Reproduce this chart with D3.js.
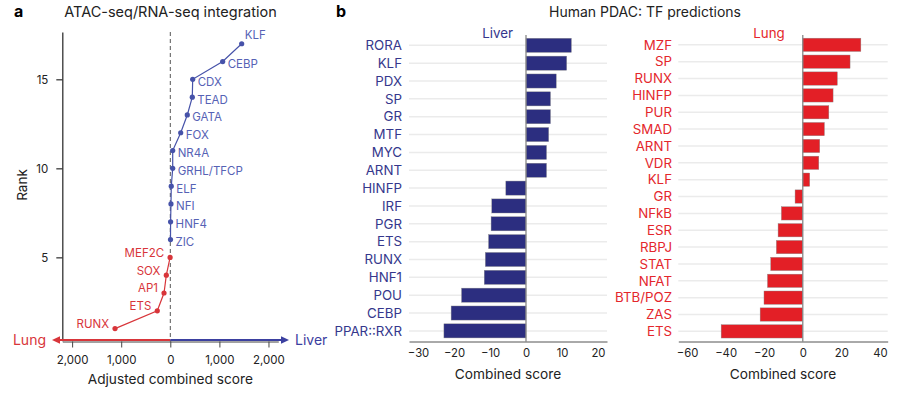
<!DOCTYPE html>
<html>
<head>
<meta charset="utf-8">
<script src="https://cdn.jsdelivr.net/npm/d3@7"></script>
<style>
  body { margin: 0; background: #fff; }
  text { font-family: Inter, "Noto Sans", sans-serif; }
</style>
</head>
<body>
<div id="chart"></div>
<script>
const width = 911;
const height = 395;

// panel a: ATAC-seq/RNA-seq integration
const tfA = ["RUNX", "ETS", "AP1", "SOX", "MEF2C", "ZIC", "HNF4", "NFI", "ELF", "GRHL/TFCP", "NR4A", "FOX", "GATA", "TEAD", "CDX", "CEBP", "KLF"];
const rankA = [1, 2, 3, 4, 5, 6, 7, 8, 9, 10, 11, 12, 13, 14, 15, 16, 17];
const scoreA = [-1126, -265, -128, -81, -4, 4, 6, 14, 20, 49, 49, 212, 346, 448, 456, 1067, 1454];
const rankTicks = [5, 10, 15];
const scoreTicks = [-2000, -1000, 0, 1000, 2000];

// panel b: Human PDAC TF predictions
const liverTF = ["RORA", "KLF", "PDX", "SP", "GR", "MTF", "MYC", "ARNT", "HINFP", "IRF", "PGR", "ETS", "RUNX", "HNF1", "POU", "CEBP", "PPAR::RXR"];
const liverScore = [12.6, 11.3, 8.4, 6.8, 6.8, 6.3, 5.7, 5.7, -5.6, -9.5, -9.7, -10.4, -11.3, -11.6, -17.9, -20.8, -22.8];
const liverTicks = [-30, -20, -10, 0, 10, 20];

const lungTF = ["MZF", "SP", "RUNX", "HINFP", "PUR", "SMAD", "ARNT", "VDR", "KLF", "GR", "NFkB", "ESR", "RBPJ", "STAT", "NFAT", "BTB/POZ", "ZAS", "ETS"];
const lungScore = [30.1, 24.5, 17.9, 15.7, 13.5, 11.2, 8.8, 8.3, 3.6, -4.0, -11.1, -12.8, -13.7, -16.6, -18.3, -20.1, -22.1, -42.3];
const lungTicks = [-60, -40, -20, 0, 20, 40];

const blue = "#4652a9", blueText = "#5662b5", red = "#d8353a";
const navy = "#2c2e80", navyText = "#35378c", lungRed = "#e31f26";

const svg = d3.select("#chart")
    .append("svg")
        .attr("width", width)
        .attr("height", height);

// ---------- panel a ----------
const xA = d3.scaleLinear().domain([-2200, 2200]).range([62.3, 278.3]);
const yA = d3.scaleLinear().domain([0.32, 17.66]).range([340.7, 32]);
const axisY = 341.5;

svg.append("text").attr("x", 14).attr("y", 17)
    .style("font-size", "16px").style("font-weight", "bold").text("a");
svg.append("text").attr("x", 170.5).attr("y", 17).attr("text-anchor", "middle")
    .style("font-size", "14.5px").attr("fill", "#222").text("ATAC-seq/RNA-seq integration");

// dashed zero line
svg.append("line")
    .attr("x1", xA(0)).attr("x2", xA(0))
    .attr("y1", 32).attr("y2", axisY)
    .attr("stroke", "#555").attr("stroke-width", 1).attr("stroke-dasharray", "4,3");

// y axis
const gyA = svg.append("g")
    .attr("transform", "translate(" + xA.range()[0] + ",0)")
    .call(d3.axisLeft(yA).tickValues(rankTicks).tickSize(6).tickPadding(8).tickSizeOuter(0));
gyA.select(".domain").attr("stroke", "#333").attr("stroke-width", 1.3);
gyA.selectAll("text").style("font-size", "11.5px").attr("fill", "#222");

// x axis
const gxA = svg.append("g")
    .attr("transform", "translate(0," + axisY + ")")
    .call(d3.axisBottom(xA).tickValues(scoreTicks)
        .tickFormat(d => d3.format(",")(Math.abs(d)))
        .tickSize(6).tickPadding(8).tickSizeOuter(0));
gxA.select(".domain").attr("stroke", "#444").attr("stroke-width", 1);
gxA.selectAll(".tick line").attr("stroke", "#444");
gxA.selectAll("text").style("font-size", "11.5px").attr("fill", "#222");

// direction arrows
const arrowY = 340;
svg.append("line").attr("x1", xA(0)).attr("x2", 58).attr("y1", arrowY).attr("y2", arrowY)
    .attr("stroke", red).attr("stroke-width", 2.2);
svg.append("path").attr("d", "M52," + arrowY + "l8,-3.8v7.6z").attr("fill", red);
svg.append("line").attr("x1", xA(0)).attr("x2", 282).attr("y1", arrowY).attr("y2", arrowY)
    .attr("stroke", "#3b40a0").attr("stroke-width", 2.2);
svg.append("path").attr("d", "M289," + arrowY + "l-8,-3.8v7.6z").attr("fill", "#3b40a0");
svg.append("text").attr("x", 46).attr("y", arrowY + 5).attr("text-anchor", "end")
    .style("font-size", "14px").attr("fill", red).text("Lung");
svg.append("text").attr("x", 295).attr("y", arrowY + 5)
    .style("font-size", "14px").attr("fill", "#3b40a0").text("Liver");

svg.append("text").attr("x", 170.3).attr("y", 384).attr("text-anchor", "middle")
    .style("font-size", "13.7px").attr("fill", "#222").text("Adjusted combined score");
svg.append("text").attr("transform", "translate(27,185) rotate(-90)").attr("text-anchor", "middle")
    .style("font-size", "13.5px").attr("fill", "#222").text("Rank");

const ptsA = tfA.map((d, i) => ({tf: d, rank: rankA[i], score: scoreA[i]}));
const lungPts = ptsA.filter(d => d.score < 0);
const liverPts = ptsA.filter(d => d.score >= 0);
const lineA = d3.line().x(d => xA(d.score)).y(d => yA(d.rank));

svg.append("path").datum(lungPts).attr("d", lineA)
    .attr("fill", "none").attr("stroke", red).attr("stroke-width", 1.2);
svg.append("path").datum(liverPts).attr("d", lineA)
    .attr("fill", "none").attr("stroke", blue).attr("stroke-width", 1.2);

svg.selectAll(".ptA")
    .data(ptsA)
    .join("circle")
        .attr("cx", d => xA(d.score))
        .attr("cy", d => yA(d.rank))
        .attr("r", 2.6)
        .attr("fill", d => d.score < 0 ? red : blue);

svg.selectAll(".lblA")
    .data(ptsA)
    .join("text")
        .attr("x", d => d.score < 0 ? xA(d.score) - 6 : xA(d.score) + (d.rank === 17 ? 3 : 5))
        .attr("y", d => d.score < 0 ? yA(d.rank) - 0.5 : yA(d.rank) + (d.rank === 17 ? -5 : 6.5))
        .attr("text-anchor", d => d.score < 0 ? "end" : "start")
        .style("font-size", "11.5px")
        .attr("fill", d => d.score < 0 ? red : blueText)
        .text(d => d.tf);

// ---------- panel b ----------
svg.append("text").attr("x", 336).attr("y", 17)
    .style("font-size", "16px").style("font-weight", "bold").text("b");
svg.append("text").attr("x", 645).attr("y", 17).attr("text-anchor", "middle")
    .style("font-size", "14px").attr("fill", "#222").text("Human PDAC: TF predictions");

function barPanel(cats, vals, ticks, xRange, domain, labelX, head, headX, barColor, textColor) {
    const x = d3.scaleLinear().domain(domain).range(xRange);
    const y = d3.scalePoint().domain(cats).range([36.4, 339.8]).padding(0.5);
    const bh = y.step() * 0.79;
    const g = svg.append("g");

    g.selectAll(".grid")
        .data(cats)
        .join("line")
            .attr("x1", xRange[0]).attr("x2", xRange[1])
            .attr("y1", d => y(d)).attr("y2", d => y(d))
            .attr("stroke", "#ebebeb").attr("stroke-width", 1.5);

    g.selectAll(".bar")
        .data(cats)
        .join("rect")
            .attr("x", (d, i) => x(Math.min(0, vals[i])))
            .attr("y", d => y(d) - bh / 2)
            .attr("width", (d, i) => Math.abs(x(vals[i]) - x(0)))
            .attr("height", bh)
            .attr("fill", barColor)
            .attr("stroke", "#8a8a8a").attr("stroke-width", 0.4);

    g.append("line")
        .attr("x1", x(0)).attr("x2", x(0))
        .attr("y1", 35).attr("y2", axisY)
        .attr("stroke", "#888").attr("stroke-width", 1.3);

    const gx = g.append("g")
        .attr("transform", "translate(0," + axisY + ")")
        .call(d3.axisBottom(x).tickValues(ticks).tickSize(0).tickPadding(7));
    gx.select(".domain").attr("stroke", "#555").attr("stroke-width", 1);
    gx.selectAll("text").style("font-size", "11.3px").attr("fill", "#222");

    g.selectAll(".cat")
        .data(cats)
        .join("text")
            .attr("x", labelX)
            .attr("y", d => y(d))
            .attr("dy", "0.36em")
            .attr("text-anchor", "end")
            .style("font-size", "13.3px")
            .attr("fill", textColor)
            .text(d => d);

    g.append("text").attr("x", headX).attr("y", 38).attr("text-anchor", "middle")
        .style("font-size", "13.3px").attr("fill", textColor).text(head);

    g.append("text").attr("x", (xRange[0] + xRange[1]) / 2).attr("y", 378.5).attr("text-anchor", "middle")
        .style("font-size", "13.7px").attr("fill", "#222").text("Combined score");
}

barPanel(liverTF, liverScore, liverTicks, [409, 607], [-32.5, 22.5], 402, "Liver", 497.7, navy, navyText);
barPanel(lungTF, lungScore, lungTicks, [678.3, 887.7], [-64.5, 44], 672, "Lung", 769, lungRed, "#e4262c");
</script>
</body>
</html>
